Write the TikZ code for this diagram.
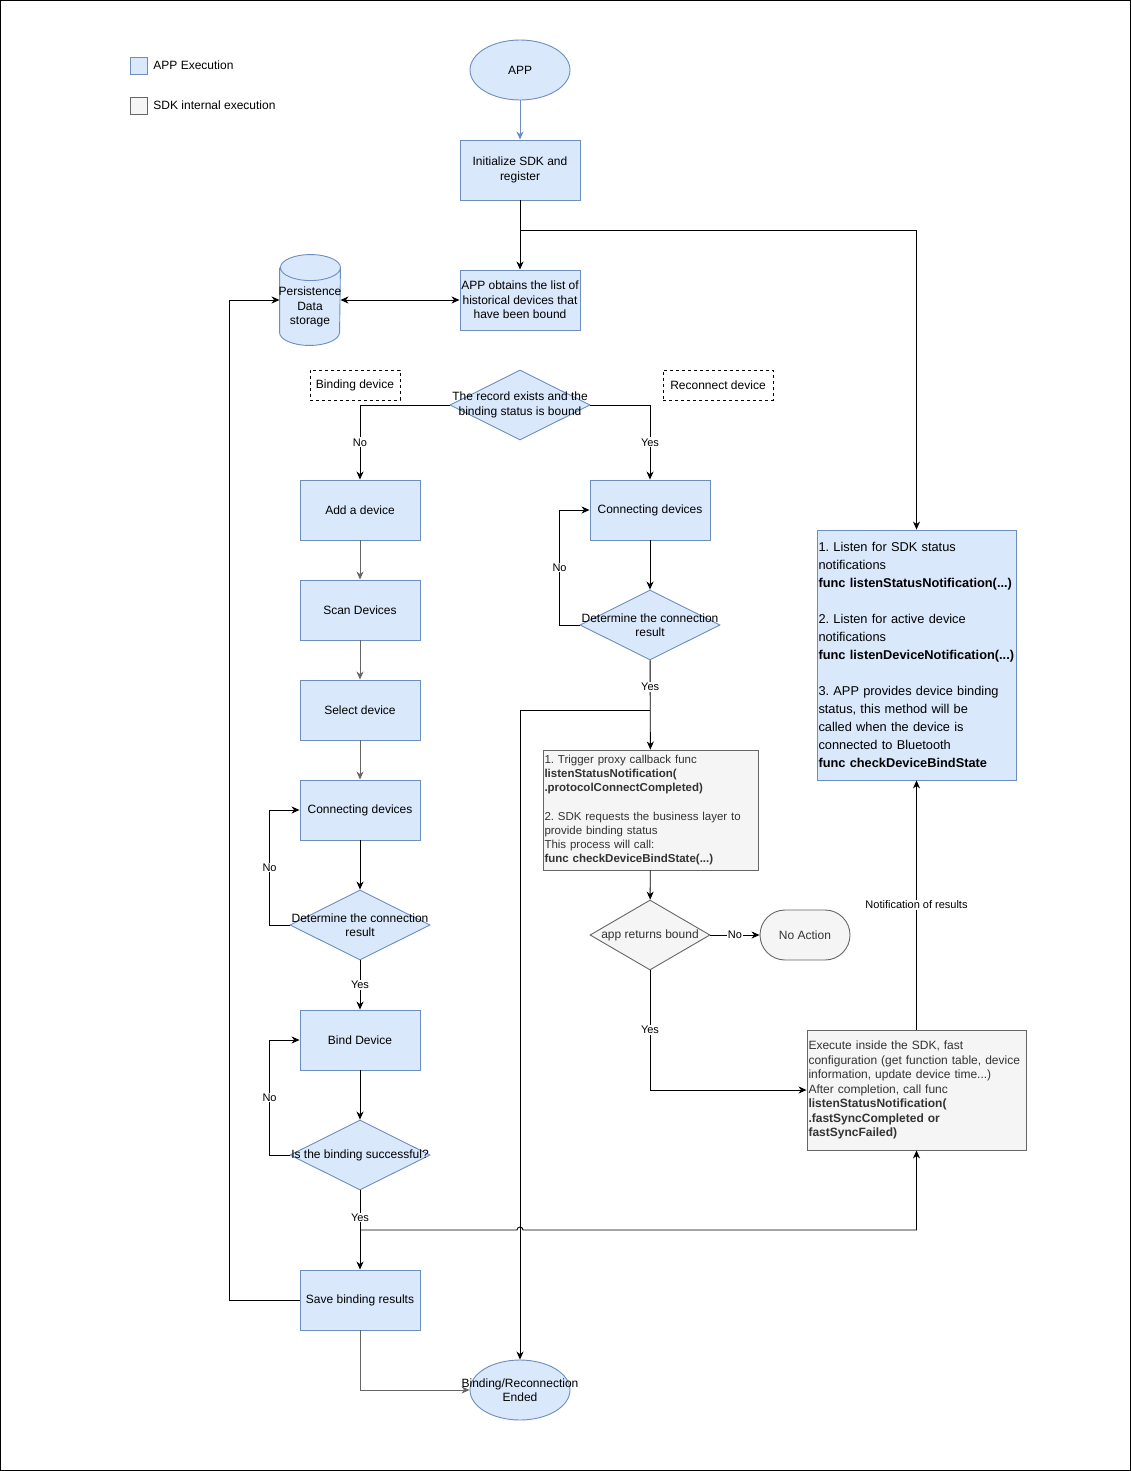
\documentclass[tikz,border=0pt]{standalone}
\usepackage{fontspec}
\setmainfont{Liberation Sans}
\usepackage{xcolor}
\definecolor{AppFill}{HTML}{DAE8FC}
\definecolor{AppLine}{HTML}{6C8EBF}
\definecolor{SdkFill}{HTML}{F5F5F5}
\definecolor{SdkLine}{HTML}{666666}
\definecolor{SdkText}{HTML}{333333}
\usetikzlibrary{positioning}
\usetikzlibrary{calc}
\usetikzlibrary{shapes.geometric}
\usetikzlibrary{arrows.meta}
\frenchspacing

\begin{document}
\begin{tikzpicture}[
      x=1pt, y=-1pt, line width=0.9pt
      , font=\fontsize{12}{14.5}\selectfont
      , app-box/.style={rectangle, draw=AppLine, fill=AppFill, minimum width=120pt, minimum height=60pt, inner sep=1pt, align=center}
      , sdk-box/.style={rectangle, draw=SdkLine, fill=SdkFill, text=SdkText, inner xsep=1.5pt, inner ysep=0pt, align=left}
      , app-end/.style={ellipse, draw=AppLine, fill=AppFill, minimum width=100pt, minimum height=60pt, inner sep=0pt}
      , decision/.style={diamond, draw=AppLine, fill=AppFill, minimum width=140pt, minimum height=70pt, inner sep=0pt}
      , note/.style={rectangle, draw, dashed, minimum height=30pt, inner sep=0pt}
      , flow/.style={->, color=black}
      , flow-grey/.style={->, color=SdkLine}
      , tag/.style={fill=white, inner sep=1pt, font=\fontsize{11}{12}\selectfont}
      , on grid
      ]

      \tikzset{>={Stealth[length=8pt,width=7pt,inset=2.5pt]}}

      % frame and legend
      \useasboundingbox (0,0) rectangle (1131,1471);
      \draw[line width=1pt] (0.5,0.5) rectangle (1130.5,1470.5);
      \node[rectangle, draw=AppLine, fill=AppFill, minimum size=17pt, inner sep=0pt] (key-app) at (138.5,65.5) {};
      \node[anchor=west, inner sep=0pt] at (153,65) {APP Execution};
      \node[rectangle, draw=SdkLine, fill=SdkFill, minimum size=17pt, inner sep=0pt] (key-sdk) at (138.5,105.5) {};
      \node[anchor=west, inner sep=0pt] at (153,105) {SDK internal execution};

      % main column
      \node[app-end] (app) at (520,70) {APP};
      \node[app-box] (init) at (520,170) {Initialize SDK and\\register};
      \node[app-box] (history) at (520,300) {APP obtains the list of\\historical devices that\\have been bound};
      \node[minimum width=60pt, minimum height=90pt, inner sep=0pt] (store) at (310,300) {};
      \node[decision, label={[align=center, inner sep=0pt]center:The record exists and the\\binding status is bound}] (record) at (520,405) {};

      \node[note, minimum width=90pt] (note-bind) at (355,385) {Binding device};
      \node[note, minimum width=110pt] (note-reconnect) at (718,385) {Reconnect device};

      % binding branch
      \node[app-box] (add) at (360,510) {Add a device};
      \node[app-box, below = 100pt of add] (scan) {Scan Devices};
      \node[app-box, below = 100pt of scan] (select) {Select device};
      \node[app-box, below = 100pt of select] (conn-l) {Connecting devices};
      \node[decision, below = 115pt of conn-l, label={[align=center, inner sep=0pt]center:Determine the connection\\result}] (check-l) {};
      \node[app-box] (bind) at (360,1040) {Bind Device};
      \node[decision, below = 115pt of bind, label={[inner sep=0pt]center:Is the binding successful?}] (bind-ok) {};
      \node[app-box] (save) at (360,1300) {Save binding results};
      \node[app-end, label={[align=center, inner sep=0pt]center:Binding/Reconnection\\Ended}] (ended) at (520,1390) {};

      % reconnect branch
      \node[app-box] (conn-r) at (650,510) {Connecting devices};
      \node[decision, below = 115pt of conn-r, label={[align=center, inner sep=0pt]center:Determine the connection\\result}] (check-r) {};
      \node[sdk-box, minimum width=215pt, minimum height=120pt, text width=212pt, font=\fontsize{11.5}{14.2}\selectfont] (trigger) at (650.5,810) {1. Trigger proxy callback func\\\textbf{listenStatusNotification(}\\\textbf{.protocolConnectCompleted)}\\[14.2pt]2. SDK requests the business layer to\\provide binding status\\This process will call:\\\textbf{func checkDeviceBindState(...)}};
      \node[diamond, draw=SdkLine, fill=SdkFill, minimum width=120pt, minimum height=70pt, inner sep=0pt,
            label={[text=SdkText, inner sep=0pt]center:app returns bound}] (bound) at (650,935) {};
      \node[rectangle, rounded corners=25pt, draw=SdkLine, fill=SdkFill, text=SdkText, minimum width=90pt, minimum height=50pt] (no-action) at (805,935) {No Action};
      \node[sdk-box, minimum width=219pt, minimum height=120pt, text width=216pt] (sync) at (916.5,1090) {Execute inside the SDK, fast\\configuration (get function table, device\\information, update device time...)\\After completion, call func\\\textbf{listenStatusNotification(}\\\textbf{.fastSyncCompleted or}\\\textbf{fastSyncFailed)}};
      \node[app-box, minimum width=199pt, minimum height=250pt, text width=196pt, align=left, font=\fontsize{12.8}{18}\selectfont] (listen) at (916.5,655) {1. Listen for SDK status\\notifications\\\textbf{func listenStatusNotification(...)}\\[18pt]2. Listen for active device\\notifications\\\textbf{func listenDeviceNotification(...)}\\[18pt]3. APP provides device binding\\status, this method will be\\called when the device is\\connected to Bluetooth\\\textbf{func checkDeviceBindState}};

      % cylinder outline
      \fill[AppFill] (store.north west) ++(0,13) -- ($(store.south west)+(0,-13)$) arc[start angle=180, end angle=0, x radius=30, y radius=13] -- ($(store.north east)+(0,13)$) arc[start angle=0, end angle=-180, x radius=30, y radius=13] -- cycle;
      \draw[AppLine] (store.north west) ++(0,13) -- ($(store.south west)+(0,-13)$) arc[start angle=180, end angle=0, x radius=30, y radius=13] -- ($(store.north east)+(0,13)$) arc[start angle=0, end angle=-180, x radius=30, y radius=13] arc[start angle=180, end angle=0, x radius=30, y radius=13];
      \node[align=center, inner sep=0pt] (store-text) at ($(store.center)+(0,7)$) {Persistence\\Data\\storage};

      % connectors
      \draw[->, color=AppLine] (app) -- (init);
      \draw[flow] (init) -- (history);
      \coordinate (split-top) at (520,230);
      \draw[flow] (split-top) -| (listen.north);
      \draw[<->] (store.east) -- (history.west);
      \draw[flow] (record.west) -| (add.north) node[tag, pos=0.75] {No};
      \draw[flow] (record.east) -| (conn-r.north) node[tag, pos=0.75] {Yes};

      \draw[flow-grey] (add) -- (scan);
      \draw[flow-grey] (scan) -- (select);
      \draw[flow-grey] (select) -- (conn-l);
      \draw[flow] (conn-l) -- (check-l);
      \draw[flow] (check-l.west) -- ++(-20,0) |- (conn-l.west) node[tag, pos=0.25] {No};
      \draw[flow] (check-l) -- (bind) node[tag, midway] {Yes};
      \draw[flow] (bind) -- (bind-ok);
      \draw[flow] (bind-ok.west) -- ++(-20,0) |- (bind.west) node[tag, pos=0.25] {No};
      \draw[flow] (bind-ok) -- (save) node[tag, pos=0.34] {Yes};
      \coordinate (split-bind) at (360,1230);
      \draw[flow] (split-bind) -- ($(split-bind -| ended)+(-3,0)$) arc[start angle=180, end angle=360, radius=3] -| (sync.south);
      \draw[flow] (save.west) -- ++(-70,0) |- (store.west);
      \draw[flow-grey] (save.south) |- (ended.west);

      \draw[flow] (conn-r) -- (check-r);
      \draw[flow] (check-r.west) -- ++(-20,0) |- (conn-r.west) node[tag, pos=0.25] {No};
      \draw[flow] (check-r) -- (trigger) node[tag, pos=0.3] {Yes};
      \coordinate (split-yes) at (650,710);
      \draw[flow] (split-yes) -| (ended.north);
      \draw[flow] (trigger) -- (bound);
      \draw[flow] (bound) -- (no-action) node[tag, midway] {No};
      \draw[flow] (bound.south) |- (sync.west) node[tag, pos=0.25] {Yes};
      \draw[flow] (sync.north) -- (listen.south) node[tag, midway] {Notification of results};
    \end{tikzpicture}
\end{document}
